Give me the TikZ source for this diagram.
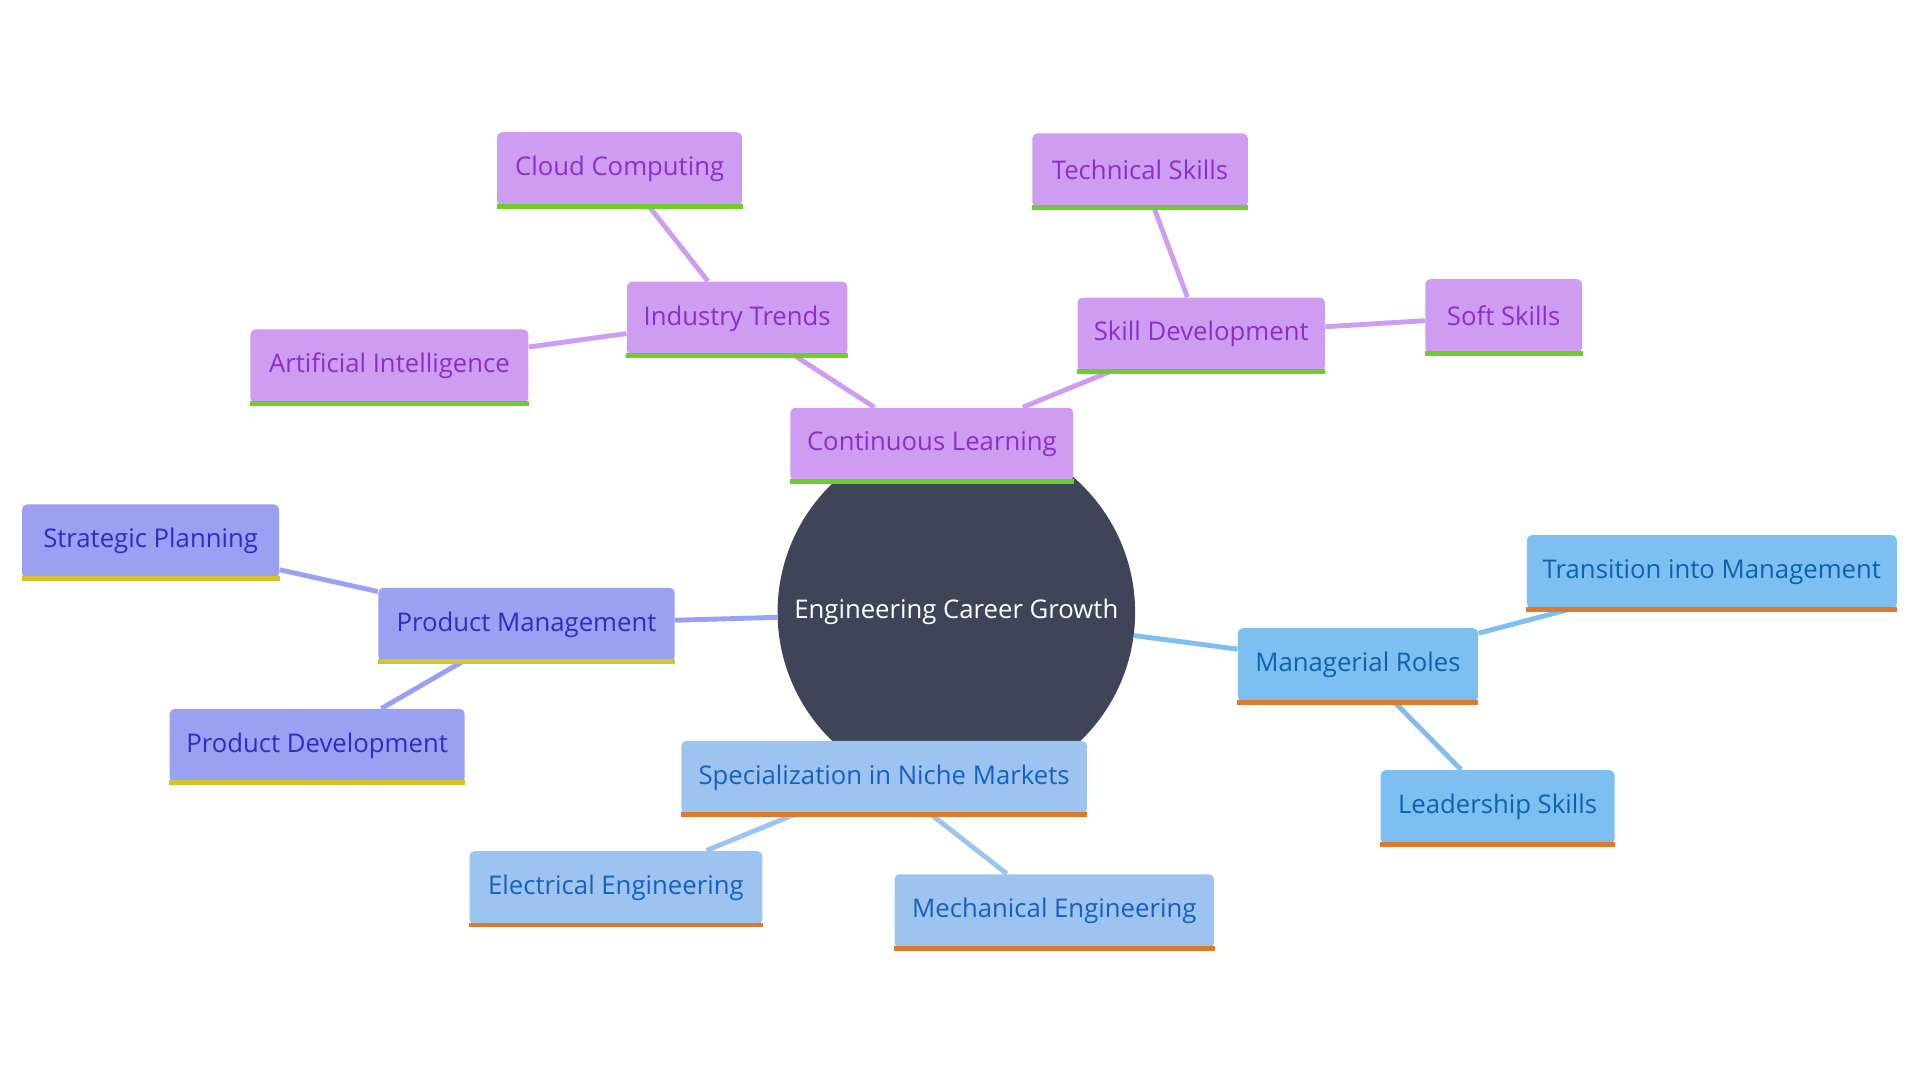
\documentclass[tikz,border=0pt]{standalone}
\usepackage{fontspec}
\setmainfont{Open Sans}
\usetikzlibrary{backgrounds}
\definecolor{cpur}{HTML}{CE9DF2}\definecolor{tpur}{HTML}{8A2FC8}\definecolor{bpur}{HTML}{6ACF2A}
\definecolor{cind}{HTML}{9AA0F2}\definecolor{tind}{HTML}{2B2EC0}\definecolor{bind}{HTML}{D4C628}
\definecolor{cblu}{HTML}{7CBFF0}\definecolor{tblu}{HTML}{0D62B0}\definecolor{bora}{HTML}{DD7A2C}
\definecolor{clb}{HTML}{9DC3F0}\definecolor{tlb}{HTML}{1560C0}
\definecolor{hub}{HTML}{404459}
\tikzset{
 box/.style={rounded corners=2pt,minimum height=30pt,inner sep=0pt,font=\fontsize{10.5}{12}\selectfont},
 pur/.style={box,fill=cpur,text=tpur},
 ind/.style={box,fill=cind,text=tind},
 blu/.style={box,fill=cblu,text=tblu},
 lb/.style={box,fill=clb,text=tlb},
 edge/.style={line width=2pt},
 bar/.style={line width=2pt}
}
\begin{document}
\begin{tikzpicture}[x=0.5pt,y=-0.5pt]
\useasboundingbox (0,0) rectangle (1568,882);
\node[circle,fill=hub,minimum size=146pt,text=white,font=\fontsize{10.5}{12}\selectfont] (c) at (781,500) {Engineering Career Growth};
\node[pur,minimum width=115.5pt] (cl) at (761,363) {Continuous Learning};
\node[pur,minimum width=90pt] (it) at (602,260) {Industry Trends};
\node[pur,minimum width=100pt] (cc) at (506,138) {Cloud Computing};
\node[pur,minimum width=113.5pt] (ai) at (318,299) {Artificial Intelligence};
\node[pur,minimum width=101pt] (sd) at (981,273) {Skill Development};
\node[pur,minimum width=88pt] (ts) at (931,139) {Technical Skills};
\node[pur,minimum width=64pt] (ss) at (1228,258) {Soft Skills};
\node[ind,minimum width=121pt] (pm) at (430,510) {Product Management};
\node[ind,minimum width=105pt] (sp) at (123,442) {Strategic Planning};
\node[ind,minimum width=120.5pt] (pd) at (259,609) {Product Development};
\node[blu,minimum width=98pt] (mr) at (1109,543) {Managerial Roles};
\node[blu,minimum width=151pt] (tm) at (1398,467) {Transition into Management};
\node[blu,minimum width=95.5pt] (ls) at (1223,659) {Leadership Skills};
\node[lb,minimum width=165.5pt] (sn) at (722,635) {Specialization in Niche Markets};
\node[lb,minimum width=119.5pt] (ee) at (503,725) {Electrical Engineering};
\node[lb,minimum width=130.5pt] (me) at (861,744) {Mechanical Engineering};
\foreach \n in {cl,it,cc,ai,sd,ts,ss} \draw[bar,bpur] (\n.south west) -- (\n.south east);
\foreach \n in {pm,sp,pd} \draw[bar,bind] (\n.south west) -- (\n.south east);
\foreach \n in {mr,tm,ls,sn,ee,me} \draw[bar,bora] (\n.south west) -- (\n.south east);
\begin{pgfonlayer}{background}
\draw[edge,cpur] (c) -- (cl);
\draw[edge,cpur] (cl) -- (it); \draw[edge,cpur] (it) -- (cc); \draw[edge,cpur] (it) -- (ai);
\draw[edge,cpur] (cl) -- (sd); \draw[edge,cpur] (sd) -- (ts); \draw[edge,cpur] (sd) -- (ss);
\draw[edge,cind] (c) -- (pm); \draw[edge,cind] (pm) -- (sp); \draw[edge,cind] (pm) -- (pd);
\draw[edge,cblu] (c) -- (mr); \draw[edge,cblu] (mr) -- (tm); \draw[edge,cblu] (mr) -- (ls);
\draw[edge,clb] (c) -- (sn); \draw[edge,clb] (sn) -- (ee); \draw[edge,clb] (sn) -- (me);
\end{pgfonlayer}
\end{tikzpicture}
\end{document}
